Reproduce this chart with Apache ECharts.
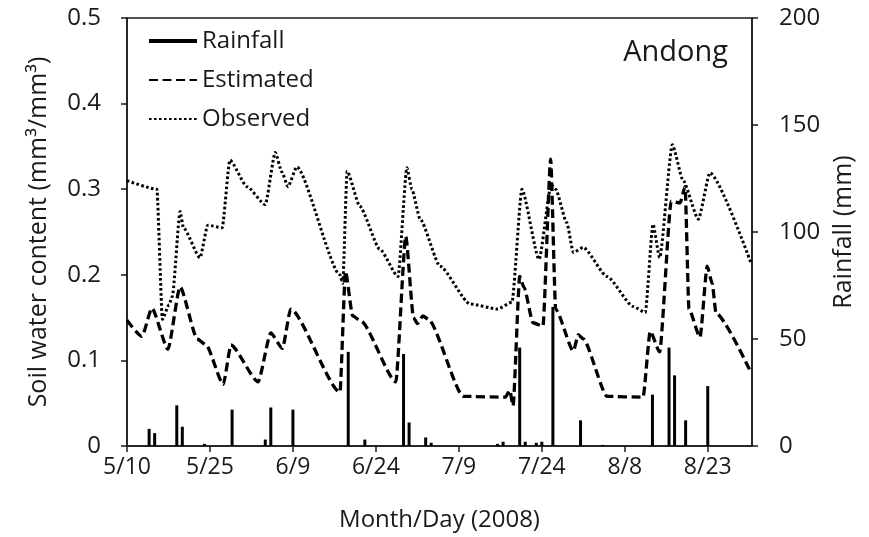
<!DOCTYPE html>
<html>
<head>
<meta charset="utf-8">
<script src="https://cdn.jsdelivr.net/npm/echarts@6/dist/echarts.min.js"></script>
<style>
html, body { margin: 0; padding: 0; background: #fff; }
#main { width: 869px; height: 537px; }
</style>
</head>
<body>
<div id="main"></div>
<script>
// days counted from 5/10/2008
var rainDay = [4, 5, 9, 10, 14, 19, 25, 26, 30, 40, 43, 50, 51, 54, 55, 67, 68, 71, 72, 74, 75, 77, 82, 86, 95, 98, 99, 101, 105];
var rainVal = [8, 6, 19, 9, 1, 17, 3, 18, 17, 44, 3, 43, 11, 4, 1.5, 1, 2, 46, 2, 1.5, 2, 65, 12, 0.5, 24, 46, 33, 12, 28];

var estDay = [0, 2.7, 4.5, 7.4, 9.6, 12.7, 14.3, 17.4, 18.8, 23.7, 26, 28.1, 29.6, 38.5, 39.5, 40.8, 42.3, 48.6, 50.4, 51.8, 52.5, 53.5, 54.5, 60.8, 68.4, 69.2, 69.8, 71, 71.8, 73.4, 75.2, 76.6, 77.5, 80.7, 81.6, 82.5, 86.8, 93.3, 94.6, 96.3, 98.4, 100, 100.9, 101.6, 103.6, 104.9, 105.8, 106.5, 112.8];
var estVal = [0.147, 0.128, 0.161, 0.113, 0.186, 0.125, 0.118, 0.072, 0.118, 0.075, 0.132, 0.114, 0.160, 0.063, 0.204, 0.152, 0.146, 0.075, 0.245, 0.150, 0.143, 0.152, 0.148, 0.058, 0.057, 0.065, 0.047, 0.198, 0.185, 0.144, 0.140, 0.335, 0.160, 0.111, 0.130, 0.125, 0.058, 0.057, 0.134, 0.110, 0.286, 0.284, 0.303, 0.160, 0.127, 0.210, 0.190, 0.155, 0.086];

var obsDay = [0, 5.4, 6.4, 7.6, 8.2, 9.6, 10.2, 13.2, 14.6, 17.2, 18.6, 21.7, 25, 26.8, 28, 29.1, 30.7, 38.5, 39, 39.8, 42.1, 45.7, 49, 50.6, 51.5, 53, 56.6, 62, 67, 69.6, 71.4, 74.5, 76.7, 77.5, 79.5, 80.7, 82.5, 86.8, 91.5, 93.7, 95.1, 96.3, 98.6, 100.5, 103.3, 105.4, 112.8];
var obsVal = [0.310, 0.300, 0.148, 0.165, 0.175, 0.274, 0.255, 0.220, 0.258, 0.255, 0.334, 0.303, 0.282, 0.343, 0.320, 0.303, 0.326, 0.200, 0.190, 0.321, 0.280, 0.230, 0.198, 0.325, 0.300, 0.265, 0.210, 0.166, 0.160, 0.168, 0.300, 0.218, 0.305, 0.300, 0.261, 0.226, 0.232, 0.198, 0.163, 0.156, 0.259, 0.220, 0.352, 0.311, 0.265, 0.319, 0.214];

function pairs(xs, ys) {
    var out = [];
    for (var i = 0; i < xs.length; i++) out.push([xs[i], ys[i]]);
    return out;
}

function dayLabel(d) {
    var t = new Date(2008, 4, 10 + d);
    return (t.getMonth() + 1) + '/' + t.getDate();
}

var font = 'Open Sans';
var ink = '#1a1a1a';

var myChart = echarts.init(document.getElementById('main'));
var option = {
    backgroundColor: '#fff',
    animation: false,
    title: {
        text: 'Andong',
        right: 141,
        top: 38,
        padding: 0,
        textStyle: { fontFamily: font, fontSize: 29, fontWeight: 'normal', color: ink }
    },
    legend: {
        orient: 'vertical',
        left: 148,
        top: 29,
        padding: 0,
        itemWidth: 48,
        itemHeight: 14,
        itemGap: 15,
        itemStyle: { opacity: 0 },
        textStyle: { fontFamily: font, fontSize: 24, color: ink },
        data: [
            { name: 'Rainfall', icon: 'path://M0,0H48V4H0Z', itemStyle: { opacity: 1, color: '#000' } },
            { name: 'Estimated' },
            { name: 'Observed' }
        ]
    },
    grid: {
        left: 127,
        right: 117,
        top: 18,
        bottom: 90,
        show: true,
        borderColor: ink,
        borderWidth: 1.5
    },
    xAxis: {
        type: 'value',
        min: 0,
        max: 113,
        interval: 15,
        name: 'Month/Day (2008)',
        nameLocation: 'middle',
        nameGap: 62,
        nameTextStyle: { fontFamily: font, fontSize: 24, color: ink },
        splitLine: { show: false },
        axisLine: { lineStyle: { color: ink, width: 1.5 } },
        axisTick: { length: 6, lineStyle: { color: ink, width: 1.5 } },
        axisLabel: {
            margin: 10,
            showMaxLabel: false,
            fontFamily: font,
            fontSize: 23,
            color: ink,
            formatter: dayLabel
        }
    },
    yAxis: [{
        type: 'value',
        min: 0,
        max: 0.5,
        interval: 0.1,
        name: 'Soil water content (mm\u00b3/mm\u00b3)',
        nameLocation: 'middle',
        nameGap: 76,
        nameTextStyle: { fontFamily: font, fontSize: 25, color: ink },
        splitLine: { show: false },
        axisLine: { show: true, lineStyle: { color: ink, width: 1.5 } },
        axisTick: { show: true, length: 6, lineStyle: { color: ink, width: 1.5 } },
        axisLabel: {
            margin: 26,
            fontFamily: font,
            fontSize: 24,
            color: ink,
            formatter: function (v) { return v === 0 ? '0' : v.toFixed(1); }
        }
    }, {
        type: 'value',
        position: 'right',
        min: 0,
        max: 200,
        interval: 50,
        name: 'Rainfall (mm)',
        nameLocation: 'middle',
        nameGap: 76,
        nameRotate: 90,
        nameTextStyle: { fontFamily: font, fontSize: 25, color: ink },
        splitLine: { show: false },
        axisLine: { show: true, lineStyle: { color: ink, width: 1.5 } },
        axisTick: { show: true, length: 6, lineStyle: { color: ink, width: 1.5 } },
        axisLabel: { margin: 27, fontFamily: font, fontSize: 24, color: ink }
    }],
    series: [{
        name: 'Rainfall',
        type: 'bar',
        yAxisIndex: 1,
        barWidth: 3,
        itemStyle: { color: '#000' },
        data: pairs(rainDay, rainVal)
    }, {
        name: 'Estimated',
        type: 'line',
        symbol: 'none',
        smooth: 0.2,
        smoothMonotone: 'x',
        itemStyle: { color: '#000' },
        lineStyle: { color: '#000', width: 3.3, type: [9, 4.5] },
        data: pairs(estDay, estVal)
    }, {
        name: 'Observed',
        type: 'line',
        symbol: 'none',
        smooth: 0.2,
        smoothMonotone: 'x',
        itemStyle: { color: '#000' },
        lineStyle: { color: '#000', width: 3, type: [2.6, 2.4] },
        data: pairs(obsDay, obsVal)
    }]
};
myChart.setOption(option);
window.addEventListener('resize', function () {
    myChart.resize();
});
</script>
</body>
</html>
